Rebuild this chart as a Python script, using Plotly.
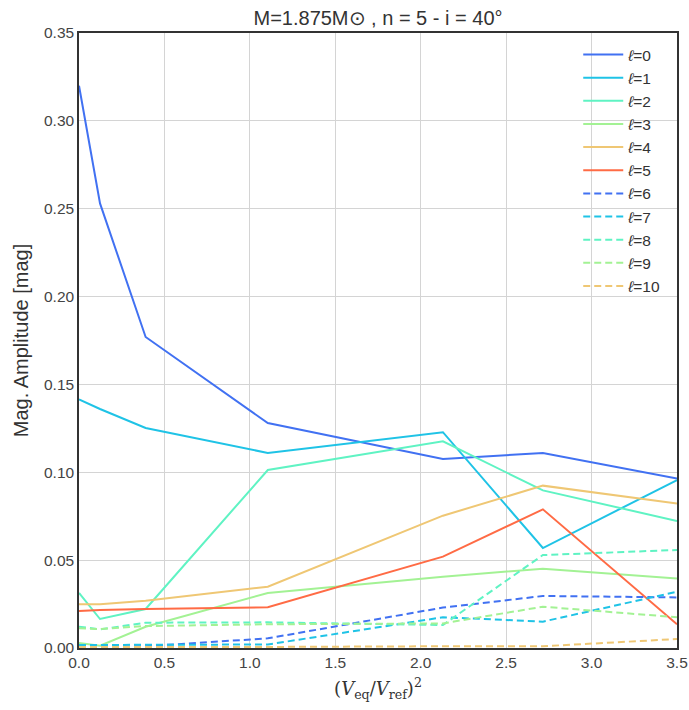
import plotly.graph_objects as go

# Squared equatorial velocity ratio at each computed model
v_ratio_sq = [0.0, 0.123, 0.39, 1.105, 2.13, 2.715, 3.5]

# Magnitude amplitude per spherical degree ell
amp_l0 = [0.3200, 0.2530, 0.1770, 0.1280, 0.1076, 0.1110, 0.0965]
amp_l1 = [0.1415, 0.1360, 0.1252, 0.1110, 0.1228, 0.0569, 0.0956]
amp_l2 = [0.0313, 0.0165, 0.0222, 0.1013, 0.1176, 0.0897, 0.0723]
amp_l3 = [0.0028, 0.0013, 0.0121, 0.0313, 0.0406, 0.0451, 0.0395]
amp_l4 = [0.0249, 0.0249, 0.0269, 0.0349, 0.0753, 0.0924, 0.0822]
amp_l5 = [0.0211, 0.0216, 0.0222, 0.0232, 0.0520, 0.0789, 0.0135]
amp_l6 = [0.0006, 0.0006, 0.0010, 0.0055, 0.0230, 0.0296, 0.0288]
amp_l7 = [0.0017, 0.0017, 0.0017, 0.0020, 0.0175, 0.0150, 0.0320]
amp_l8 = [0.0121, 0.0106, 0.0144, 0.0146, 0.0131, 0.0529, 0.0558]
amp_l9 = [0.0112, 0.0108, 0.0125, 0.0135, 0.0140, 0.0235, 0.0175]
amp_l10 = [0.0005, 0.0005, 0.0005, 0.0006, 0.0010, 0.0010, 0.0051]

series = [amp_l0, amp_l1, amp_l2, amp_l3, amp_l4, amp_l5,
          amp_l6, amp_l7, amp_l8, amp_l9, amp_l10]
degree_labels = ["<i>ℓ</i>=0", "<i>ℓ</i>=1", "<i>ℓ</i>=2", "<i>ℓ</i>=3",
                 "<i>ℓ</i>=4", "<i>ℓ</i>=5", "<i>ℓ</i>=6", "<i>ℓ</i>=7",
                 "<i>ℓ</i>=8", "<i>ℓ</i>=9", "<i>ℓ</i>=10"]

palette = ["#4171f2", "#1fc3e6", "#5ff3c3", "#a3f294", "#efc774", "#ff6b45"]

x_ticks = [0.0, 0.5, 1.0, 1.5, 2.0, 2.5, 3.0, 3.5]
y_ticks = [0.00, 0.05, 0.10, 0.15, 0.20, 0.25, 0.30, 0.35]

fig = go.Figure()
for i, (vals, name) in enumerate(zip(series, degree_labels)):
    fig.add_trace(go.Scatter(
        x=v_ratio_sq, y=vals, mode="lines", name=name,
        line=dict(color=palette[i % 6], width=2,
                  dash="solid" if i < 6 else "7px,4px"),
    ))

axis_common = dict(
    showgrid=True, gridcolor="#d4d4d4", gridwidth=1,
    showline=True, linecolor="#333333", linewidth=1.5, mirror=True,
    zeroline=False, ticks="", tickfont=dict(size=15.5, color="#444444"),
)

fig.update_layout(
    width=689, height=710,
    margin=dict(l=79, r=12, t=33, b=62, autoexpand=False),
    paper_bgcolor="white", plot_bgcolor="white",
    font=dict(family="Liberation Sans, Arial, sans-serif", color="#333333"),
    title=dict(text="M=1.875M⊙ , n = 5 - i = 40°", x=(79 + 677) / 2 / 689,
               xanchor="center", y=1 - 18 / 710, yanchor="middle",
               font=dict(size=20, color="#333333")),
    xaxis=dict(range=[0, 3.5], tickvals=x_ticks, tickformat=".1f",
               title=dict(text="(<i>V</i><sub>eq</sub>/<i>V</i><sub>ref</sub>)<sup>2</sup>",
                          font=dict(family="DejaVu Serif, serif", size=18, color="#333333"),
                          standoff=12),
               **axis_common),
    yaxis=dict(range=[0, 0.35], tickvals=y_ticks, tickformat=".2f",
               title=dict(text="Mag. Amplitude [mag]",
                          font=dict(size=20, color="#333333"), standoff=10),
               **axis_common),
    legend=dict(x=0.982, xanchor="right", y=0.992, yanchor="top",
                bgcolor="rgba(0,0,0,0)", borderwidth=0,
                font=dict(size=15.5, color="#333333"),
                tracegroupgap=0, itemwidth=40),
    showlegend=True,
)

fig.write_html("out.html")
